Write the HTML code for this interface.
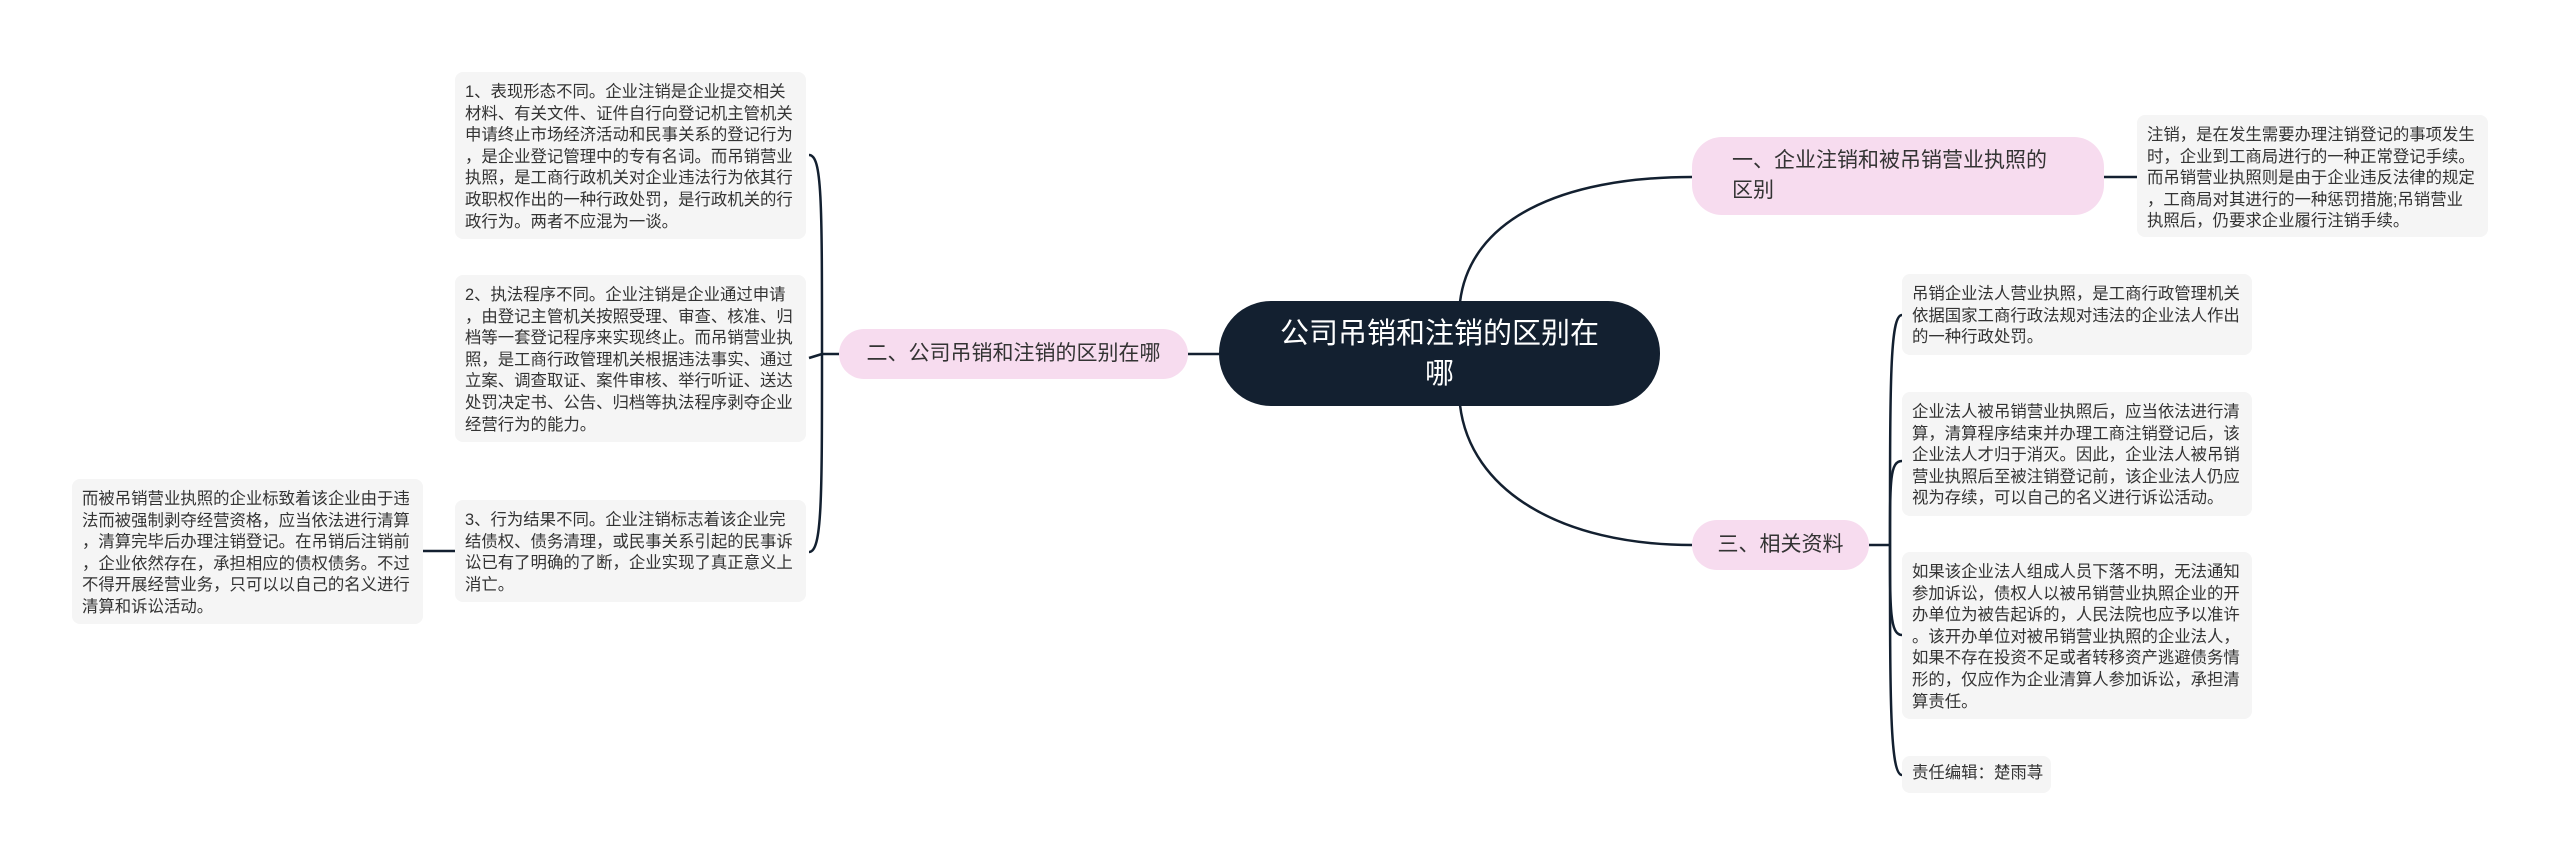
<!DOCTYPE html>
<html><head><meta charset="utf-8"><style>
body{margin:0;width:2560px;height:865px;background:#fff;position:relative;overflow:hidden;font-family:"Liberation Sans","Noto Sans CJK SC",sans-serif;}
.b{position:absolute;background:#f5f5f5;border-radius:8px;color:#333;font-size:16.4px;line-height:21.6px;padding:10px 10px;box-sizing:border-box;word-break:break-all;line-break:anywhere;}
.p{position:absolute;background:#f7dcef;border-radius:30px;color:#333;font-size:21px;line-height:30px;box-sizing:border-box;display:flex;align-items:center;padding:0 40px;}
.c{position:absolute;background:#132030;border-radius:52px;color:#fff;font-size:29px;line-height:40px;text-align:center;box-sizing:border-box;display:flex;align-items:center;justify-content:center;padding:0 50px;}
svg{position:absolute;left:0;top:0}
</style></head><body>
<svg width="2560" height="865" fill="none" stroke="#132030" stroke-width="2.5">
<path d="M1460 302 C1470 220 1560 177 1692 177"/>
<path d="M1460 405 C1470 490 1560 545 1692 545"/>
<path d="M1219 354 L1188 354"/>
<path d="M839 354 L822 354"/>
<path d="M822 354 C822 200 822 155 809 155"/>
<path d="M822 354 L809 358"/>
<path d="M822 354 C822 500 822 552 809 552"/>
<path d="M500 551 L423 551"/>
<path d="M2104 177 L2137 177"/>
<path d="M1869 545 L1890 545"/>
<path d="M1890 545 C1890 380 1890 315 1902 315"/>
<path d="M1890 545 C1890 480 1890 461 1902 461"/>
<path d="M1890 545 C1890 610 1890 635 1902 635"/>
<path d="M1890 545 C1890 700 1890 775 1902 775"/>
</svg>
<div class="c" style="left:1219px;top:301px;width:441px;height:105px;">公司吊销和注销的区别在哪</div>
<div class="p" style="left:1692px;top:137px;width:412px;height:78px;">一、企业注销和被吊销营业执照的区别</div>
<div class="p" style="left:839px;top:329px;width:349px;height:50px;justify-content:center;padding:0 20px;">二、公司吊销和注销的区别在哪</div>
<div class="p" style="left:1692px;top:520px;width:177px;height:50px;justify-content:center;padding:0;">三、相关资料</div>
<div class="b" style="left:2137px;top:115px;width:351px;height:122px;">注销，是在发生需要办理注销登记的事项发生时，企业到工商局进行的一种正常登记手续。而吊销营业执照则是由于企业违反法律的规定，工商局对其进行的一种惩罚措施;吊销营业执照后，仍要求企业履行注销手续。</div>
<div class="b" style="left:455px;top:72px;width:351px;height:167px;">1、表现形态不同。企业注销是企业提交相关材料、有关文件、证件自行向登记机主管机关申请终止市场经济活动和民事关系的登记行为，是企业登记管理中的专有名词。而吊销营业执照，是工商行政机关对企业违法行为依其行政职权作出的一种行政处罚，是行政机关的行政行为。两者不应混为一谈。</div>
<div class="b" style="left:455px;top:275px;width:351px;height:167px;">2、执法程序不同。企业注销是企业通过申请，由登记主管机关按照受理、审查、核准、归档等一套登记程序来实现终止。而吊销营业执照，是工商行政管理机关根据违法事实、通过立案、调查取证、案件审核、举行听证、送达处罚决定书、公告、归档等执法程序剥夺企业经营行为的能力。</div>
<div class="b" style="left:455px;top:500px;width:351px;height:102px;">3、行为结果不同。企业注销标志着该企业完结债权、债务清理，或民事关系引起的民事诉讼已有了明确的了断，企业实现了真正意义上消亡。</div>
<div class="b" style="left:72px;top:479px;width:351px;height:145px;">而被吊销营业执照的企业标致着该企业由于违法而被强制剥夺经营资格，应当依法进行清算，清算完毕后办理注销登记。在吊销后注销前，企业依然存在，承担相应的债权债务。不过不得开展经营业务，只可以以自己的名义进行清算和诉讼活动。</div>
<div class="b" style="left:1902px;top:274px;width:350px;height:81px;">吊销企业法人营业执照，是工商行政管理机关依据国家工商行政法规对违法的企业法人作出的一种行政处罚。</div>
<div class="b" style="left:1902px;top:392px;width:350px;height:124px;">企业法人被吊销营业执照后，应当依法进行清算，清算程序结束并办理工商注销登记后，该企业法人才归于消灭。因此，企业法人被吊销营业执照后至被注销登记前，该企业法人仍应视为存续，可以自己的名义进行诉讼活动。</div>
<div class="b" style="left:1902px;top:552px;width:350px;height:167px;">如果该企业法人组成人员下落不明，无法通知参加诉讼，债权人以被吊销营业执照企业的开办单位为被告起诉的，人民法院也应予以准许。该开办单位对被吊销营业执照的企业法人，如果不存在投资不足或者转移资产逃避债务情形的，仅应作为企业清算人参加诉讼，承担清算责任。</div>
<div class="b" style="left:1902px;top:756px;width:149px;height:37px;padding:7px 10px;white-space:nowrap;">责任编辑：楚雨荨</div>
</body></html>
